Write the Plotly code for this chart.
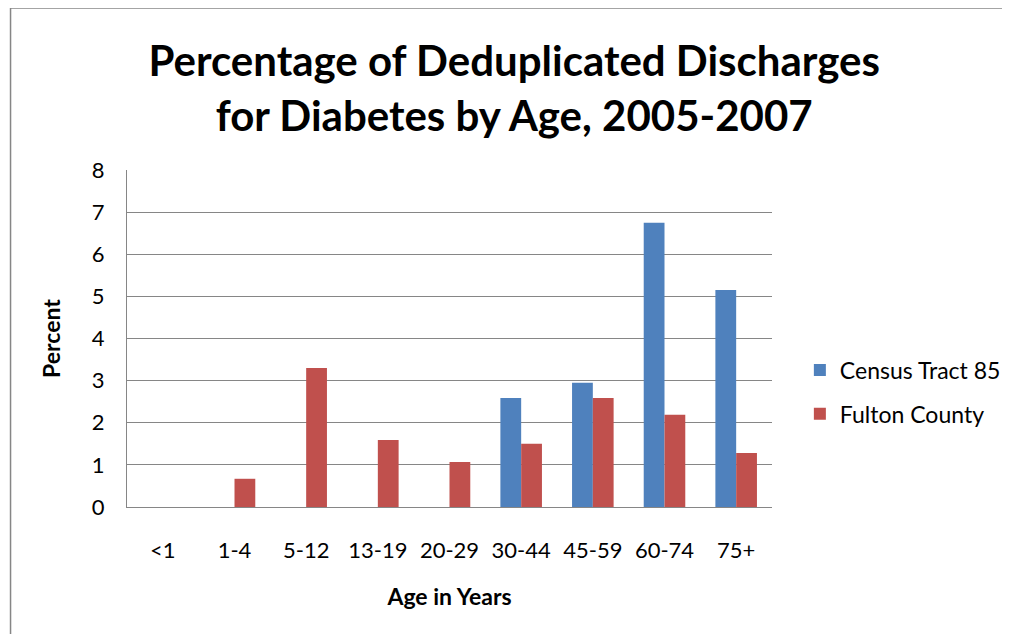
import plotly.graph_objects as go

categories = ["<1", "1-4", "5-12", "13-19", "20-29", "30-44", "45-59", "60-74", "75+"]
census_tract_85 = [None, None, None, None, None, 2.59, 2.95, 6.75, 5.15]
fulton_county = [None, 0.67, 3.30, 1.59, 1.07, 1.50, 2.59, 2.19, 1.28]

FONT = "Lato"
W, H = 1010, 634
OFF = 8  # page body margin
L, R, T, B = 127 - OFF, 775 - OFF, 170 - OFF, 507 - OFF

fig = go.Figure()
fig.add_trace(go.Bar(x=categories, y=census_tract_85, name="Census Tract 85", legendgroup="ct",
                     marker=dict(color="#4F81BD", line=dict(width=0))))
fig.add_trace(go.Bar(x=categories, y=fulton_county, name="Fulton County", legendgroup="fc",
                     marker=dict(color="#C0504D", line=dict(width=0))))

def px2x(p):
    return (p - OFF - L) / (R - L)

def py2y(p):
    return (B - (p - OFF)) / (B - T)

fig.update_layout(
    width=W, height=H,
    margin=dict(l=L, r=W - R, t=T, b=H - B),
    paper_bgcolor="white", plot_bgcolor="white",
    barmode="group", bargap=0.42, bargroupgap=0,
    font=dict(family=FONT, color="#000000"),
    title=dict(text="<b>Percentage of Deduplicated Discharges<br>for Diabetes by Age, 2005-2007</b>",
               x=px2x(516), xref="paper", xanchor="center", y=1 - (76 - OFF) / H, yanchor="middle",
               font=dict(family=FONT, size=42, color="#000000")),
    legend=dict(x=px2x(803), y=py2y(392), xanchor="left", yanchor="middle",
                font=dict(family=FONT, size=23, color="#000000"),
                tracegroupgap=11, itemwidth=30),
    showlegend=True,
    xaxis=dict(showgrid=False, showline=True, linecolor="#868686", linewidth=1,
               ticks="", tickfont=dict(family=FONT, size=22, color="#000000"),
               ticklabelstandoff=24,
               title=dict(text="<b>Age in Years</b>", font=dict(family=FONT, size=23), standoff=26)),
    yaxis=dict(range=[0, 8], dtick=1, showgrid=True, gridcolor="#868686", gridwidth=1.3,
               showline=True, linecolor="#868686", linewidth=1, zeroline=False,
               ticks="", tickfont=dict(family=FONT, size=22, color="#000000"),
               ticklabelstandoff=17,
               title=dict(text="<b>Percent</b>", font=dict(family=FONT, size=23), standoff=24)),
    shapes=[
        dict(type="line", xref="paper", yref="paper", x0=px2x(10), x1=px2x(1007),
             y0=py2y(8), y1=py2y(8), line=dict(color="#868686", width=1.5)),
        dict(type="line", xref="paper", yref="paper", x0=px2x(10), x1=px2x(10),
             y0=py2y(8), y1=py2y(640), line=dict(color="#868686", width=1.5)),
    ],
)

fig.write_html("out.html")
